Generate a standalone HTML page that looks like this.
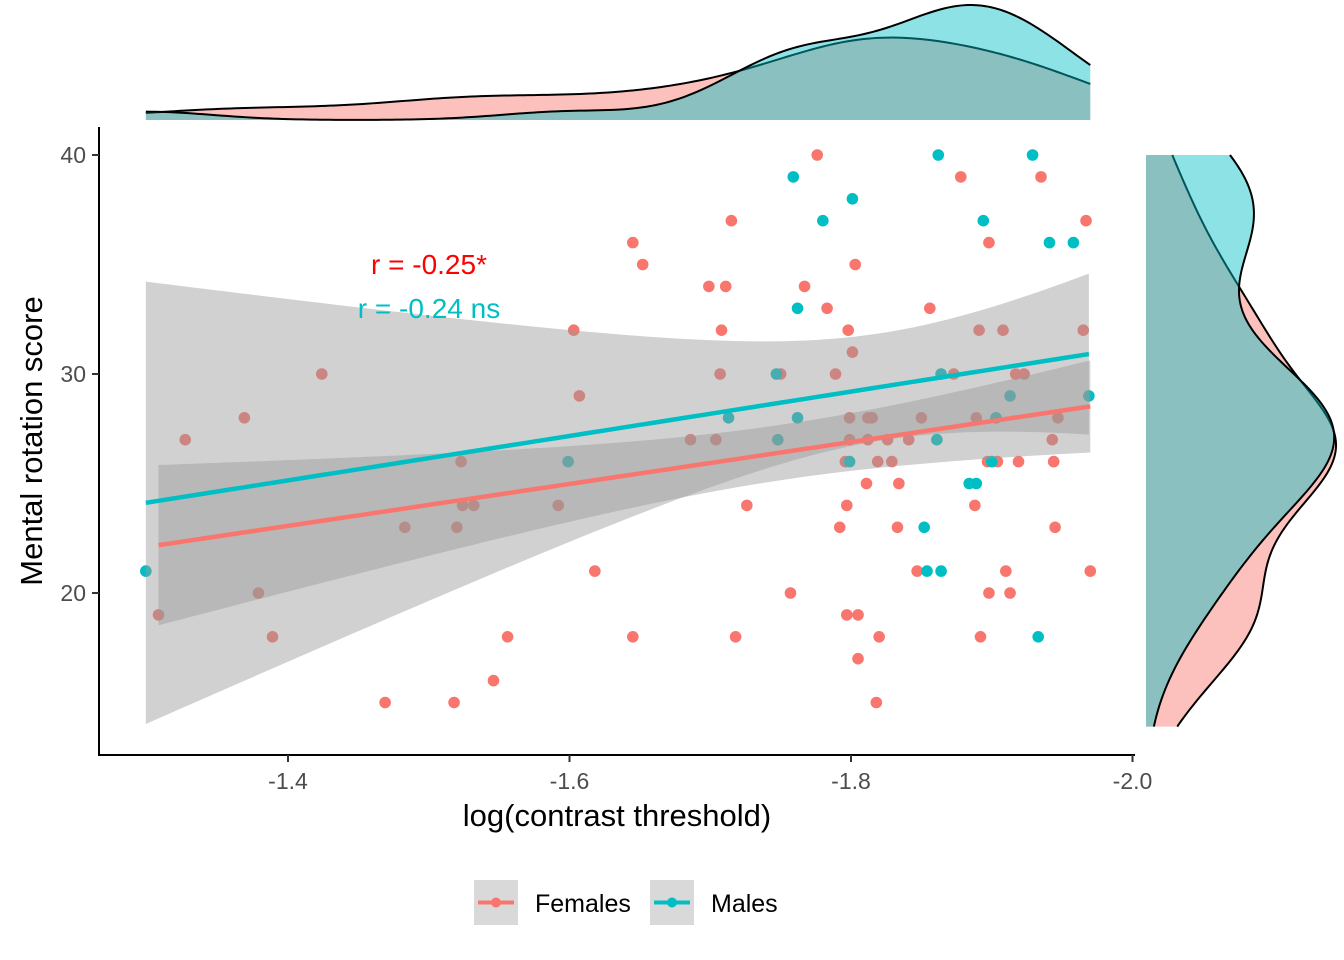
<!DOCTYPE html>
<html><head><meta charset="utf-8">
<style>
body{margin:0;background:#fff}
svg{display:block;font-family:"Liberation Sans",Arial,sans-serif}
</style></head>
<body>
<svg id="chart" width="1344" height="960">
<g id="top-density"></g>
<g id="right-density"></g>
<g id="points"></g>
<g id="ribbons"></g>
<g id="lines"></g>
<g id="axes"></g>
<text x="429" y="274" fill="#FF0000" font-size="28" text-anchor="middle">r = -0.25*</text>
<text x="429" y="318" fill="#00BFC4" font-size="28" text-anchor="middle">r = -0.24 ns</text>
<text x="617" y="826" fill="#000" font-size="31" text-anchor="middle">log(contrast threshold)</text>
<text transform="translate(42,441) rotate(-90)" fill="#000" font-size="31" text-anchor="middle">Mental rotation score</text>
<g>
<g>
<rect x="474" y="880" width="44" height="45" fill="#D9D9D9"/>
<line x1="478" y1="902.5" x2="514" y2="902.5" stroke="#F8766D" stroke-width="4"/>
<circle cx="496" cy="902.5" r="5" fill="#F8766D"/>
<text x="535" y="912" font-size="25" fill="#000">Females</text>
</g>
<g>
<rect x="650" y="880" width="44" height="45" fill="#D9D9D9"/>
<line x1="654" y1="902.5" x2="690" y2="902.5" stroke="#00BFC4" stroke-width="4"/>
<circle cx="672" cy="902.5" r="5" fill="#00BFC4"/>
<text x="711" y="912" font-size="25" fill="#000">Males</text>
</g>
</g>
</svg>
<script>
const femX = [-1.308,-1.327,-1.369,-1.379,-1.389,-1.424,-1.469,-1.483,-1.518,-1.520,-1.523,-1.524,-1.532,-1.546,-1.556,-1.592,-1.603,-1.607,-1.618,-1.645,-1.645,-1.652,-1.686,-1.699,-1.704,-1.707,-1.708,-1.711,-1.715,-1.718,-1.726,-1.750,-1.757,-1.767,-1.776,-1.783,-1.789,-1.792,-1.796,-1.797,-1.797,-1.798,-1.799,-1.799,-1.801,-1.803,-1.805,-1.805,-1.811,-1.812,-1.812,-1.815,-1.818,-1.819,-1.820,-1.826,-1.829,-1.833,-1.834,-1.841,-1.847,-1.850,-1.856,-1.873,-1.878,-1.888,-1.889,-1.891,-1.892,-1.898,-1.897,-1.898,-1.904,-1.908,-1.910,-1.913,-1.917,-1.919,-1.923,-1.935,-1.943,-1.944,-1.945,-1.947,-1.965,-1.967,-1.970];
const femY = [19,27,28,20,18,30,15,23,15,23,26,24,24,16,18,24,32,29,21,36,18,35,27,34,27,30,32,34,37,18,24,30,20,34,40,33,30,23,26,19,24,32,27,28,31,35,19,17,25,27,28,28,15,26,18,27,26,23,25,27,21,28,33,30,39,24,28,32,18,36,26,20,26,32,21,20,30,26,30,39,27,26,23,28,32,37,21];
const malX = [-1.299,-1.599,-1.713,-1.747,-1.748,-1.759,-1.762,-1.762,-1.780,-1.799,-1.801,-1.852,-1.854,-1.861,-1.862,-1.864,-1.864,-1.884,-1.889,-1.894,-1.900,-1.903,-1.913,-1.929,-1.933,-1.941,-1.958,-1.969];
const malY = [21,26,28,30,27,39,33,28,37,26,38,23,21,27,40,21,30,25,25,37,26,28,29,40,18,36,36,29];
const xTicks = [-1.4,-1.6,-1.8,-2.0];
const yTicks = [20,30,40];

const NS="http://www.w3.org/2000/svg";
const xs = v => 288 + (-1.4 - v) / 0.2 * 281.5;
const ys = v => 374 - (v - 30) * 21.9;
function mk(tag, attrs, parent){const e=document.createElementNS(NS,tag);for(const k in attrs)e.setAttribute(k,attrs[k]);parent.appendChild(e);return e;}
const COLF="#F8766D", COLM="#00BFC4";

const gp=document.getElementById('points');
function drawPts(X,Y,col,nm){X.forEach((x,i)=>{const c=mk('circle',{cx:xs(x),cy:ys(Y[i]),r:5.8,fill:col},gp);

});}
drawPts(femX,femY,COLF,'female-point');
drawPts(malX,malY,COLM,'male-point');

function fit(X,Y,t){const n=X.length,mx=X.reduce((a,b)=>a+b)/n,my=Y.reduce((a,b)=>a+b)/n;
let sxx=0,sxy=0;X.forEach((x,i)=>{sxx+=(x-mx)**2;sxy+=(x-mx)*(Y[i]-my);});
const b=sxy/sxx,a=my-b*mx;let sse=0;X.forEach((x,i)=>{sse+=(Y[i]-a-b*x)**2;});
const s=Math.sqrt(sse/(n-2));const x0=Math.max(...X),x1=Math.min(...X);
const pts=[];for(let k=0;k<=80;k++){const x=x0+(x1-x0)*k/80;const yh=a+b*x;const se=s*Math.sqrt(1/n+(x-mx)**2/sxx);pts.push([x,yh,yh-t*se,yh+t*se]);}
return pts;}
const gr=document.getElementById('ribbons'),gl=document.getElementById('lines');
function drawFit(X,Y,t,col,nm){const p=fit(X,Y,t);
let d='M'+p.map(q=>xs(q[0])+','+ys(q[3])).join('L')+'L'+p.slice().reverse().map(q=>xs(q[0])+','+ys(q[2])).join('L')+'Z';
const r=mk('path',{d:d,fill:'#999999','fill-opacity':0.45},gr);


const l=mk('path',{d:'M'+p.map(q=>xs(q[0])+','+ys(q[1])).join('L'),fill:'none',stroke:col,'stroke-width':4.5},gl);

}
drawFit(femX,femY,1.99,COLF,'female');
drawFit(malX,malY,2.06,COLM,'male');

function bw(X){const n=X.length,m=X.reduce((a,b)=>a+b)/n;const sd=Math.sqrt(X.reduce((a,b)=>a+(b-m)**2,0)/(n-1));
const s=X.slice().sort((a,b)=>a-b);const q=p=>{const h=(n-1)*p,lo=Math.floor(h);return s[lo]+(s[Math.min(lo+1,n-1)]-s[lo])*(h-lo);};
const iqr=q(.75)-q(.25);return 0.9*Math.min(sd,iqr/1.34)*Math.pow(n,-0.2);}
function kde(X,lo,hi){const h=bw(X),n=X.length,out=[];for(let k=0;k<=200;k++){const x=lo+(hi-lo)*k/200;let s=0;X.forEach(v=>{s+=Math.exp(-0.5*((x-v)/h)**2);});out.push([x,s/(n*h*Math.sqrt(2*Math.PI))]);}return out;}
const allX=femX.concat(malX);const xlo=Math.max(...allX),xhi=Math.min(...allX);
const dfx=kde(femX,xlo,xhi),dmx=kde(malX,xlo,xhi);
const mxT=Math.max(...dfx.map(p=>p[1]),...dmx.map(p=>p[1]));
const gt=document.getElementById('top-density');
function topPath(D,col,nm){const yy=v=>120-v/mxT*115;
const d='M'+xs(D[0][0])+',120L'+D.map(p=>xs(p[0])+','+yy(p[1])).join('L')+'L'+xs(D[D.length-1][0])+',120Z';
const e=mk('path',{d:d,fill:col,'fill-opacity':0.45,stroke:'none'},gt);


const o=mk('path',{d:'M'+D.map(p=>xs(p[0])+','+yy(p[1])).join('L'),fill:'none',stroke:'#000','stroke-width':2},gt);

}
topPath(dfx,COLF,'female-x-density');topPath(dmx,COLM,'male-x-density');
const ylo=13.9,yhi=40;
const dfy=kde(femY,ylo,yhi),dmy=kde(malY,ylo,yhi);
const mxR=Math.max(...dfy.map(p=>p[1]),...dmy.map(p=>p[1]));
const grd=document.getElementById('right-density');
function rightPath(D,col,nm){const xx=v=>1146+v/mxR*190;
const d='M1146,'+ys(D[0][0])+'L'+D.map(p=>xx(p[1])+','+ys(p[0])).join('L')+'L1146,'+ys(D[D.length-1][0])+'Z';
const e=mk('path',{d:d,fill:col,'fill-opacity':0.45,stroke:'none'},grd);


const o=mk('path',{d:'M'+D.map(p=>xx(p[1])+','+ys(p[0])).join('L'),fill:'none',stroke:'#000','stroke-width':2},grd);

}
rightPath(dfy,COLF,'female-y-density');rightPath(dmy,COLM,'male-y-density');

const ga=document.getElementById('axes');
mk('line',{x1:99,y1:127,x2:99,y2:756,stroke:'#000','stroke-width':2},ga);
mk('line',{x1:98,y1:755,x2:1135,y2:755,stroke:'#000','stroke-width':2},ga);
xTicks.forEach(v=>{mk('line',{x1:xs(v),y1:755,x2:xs(v),y2:762,stroke:'#333','stroke-width':2},ga);
const t=mk('text',{x:xs(v),y:789,'font-size':23,fill:'#4D4D4D','text-anchor':'middle'},ga);t.textContent=v.toFixed(1);

});
yTicks.forEach(v=>{mk('line',{x1:92,y1:ys(v),x2:99,y2:ys(v),stroke:'#333','stroke-width':2},ga);
const t=mk('text',{x:86,y:ys(v)+8,'font-size':23,fill:'#4D4D4D','text-anchor':'end'},ga);t.textContent=v;

});
</script>
</body></html>
